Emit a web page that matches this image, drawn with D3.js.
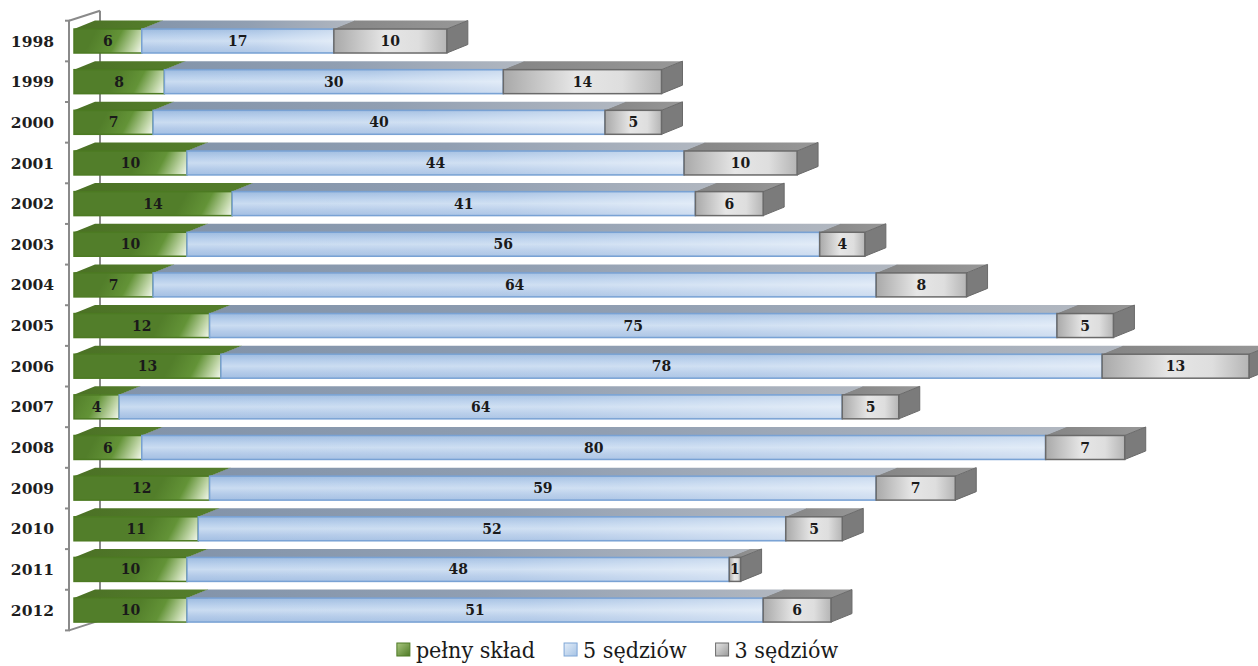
<!DOCTYPE html>
<html>
<head>
<meta charset="utf-8">
<script src="https://cdn.jsdelivr.net/npm/d3@7"></script>
<style>
  body { margin: 0; background: #fff; }
  svg { display: block; }
</style>
</head>
<body>
<div id="chart"></div>
<script>
// data
var years = ["1998", "1999", "2000", "2001", "2002", "2003", "2004", "2005",
             "2006", "2007", "2008", "2009", "2010", "2011", "2012"];
var pelnySklad = [6, 8, 7, 10, 14, 10, 7, 12, 13, 4, 6, 12, 11, 10, 10];
var piecSedziow = [17, 30, 40, 44, 41, 56, 64, 75, 78, 64, 80, 59, 52, 48, 51];
var trzechSedziow = [10, 14, 5, 10, 6, 4, 8, 5, 13, 5, 7, 7, 5, 1, 6];
var seriesNames = ["pełny skład", "5 sędziów", "3 sędziów"];

var width = 1258, height = 666;
var dx = 21, dy = -8.5; // 3d depth

var svg = d3.select("#chart").append("svg")
  .attr("width", width)
  .attr("height", height);

var defs = svg.append("defs");

// x scale: value -> pixel
var x = d3.scaleLinear()
  .domain([0, 104])
  .range([74, 1249]);

// rows
var y = d3.scaleBand()
  .domain(years)
  .range([20.7, 630.4])
  .paddingInner(0.41)
  .paddingOuter(0.205);

var h = y.bandwidth();

// gradients
function linGrad(id, x1, y1, x2, y2, stops) {
  var g = defs.append("linearGradient").attr("id", id)
    .attr("x1", x1).attr("y1", y1).attr("x2", x2).attr("y2", y2);
  stops.forEach(function(s) {
    g.append("stop").attr("offset", s[0]).attr("stop-color", s[1]);
  });
}
linGrad("blueFront", 0, 0, 0, 1, [[0, "#9dbbe0"], [0.3, "#b9d0ec"], [0.5, "#cadcf1"], [0.75, "#b4cbe9"], [1, "#a3bfe3"]]);
linGrad("blueTop", 0, 0, 1, 0, [[0, "#8394aa"], [0.5, "#919fb2"], [1, "#b1b7c0"]]);
linGrad("greyFront", 0, 0, 1, 0, [[0, "#a9a9a9"], [0.45, "#e6e6e6"], [0.75, "#dedede"], [1, "#b5b5b5"]]);
linGrad("greyTop", 0, 0, 1, 0, [[0, "#858585"], [1, "#979797"]]);
linGrad("greenTop", 0, 0, 1, 0, [[0, "#4b7125"], [1, "#557e2c"]]);
var shine = defs.append("linearGradient").attr("id", "blueShine")
  .attr("x1", 0).attr("y1", 0).attr("x2", 1).attr("y2", 0);
shine.append("stop").attr("offset", 0).attr("stop-color", "#fff").attr("stop-opacity", 0);
shine.append("stop").attr("offset", 0.6).attr("stop-color", "#fff").attr("stop-opacity", 0.12);
shine.append("stop").attr("offset", 1).attr("stop-color", "#fff").attr("stop-opacity", 0.45);

// axis walls (behind bars)
var axisColor = "#8a8a8a";
var axisG = svg.append("g");
var r = y.range();
axisG.append("line")
  .attr("x1", 100).attr("x2", 100)
  .attr("y1", r[0] - 10).attr("y2", r[1] - 10)
  .attr("stroke", axisColor).attr("stroke-width", 2);
axisG.append("path")
  .attr("d", "M69," + r[0] + "L100," + (r[0] - 10) + "M69," + r[1] + "L100," + (r[1] - 10))
  .attr("stroke", axisColor).attr("stroke-width", 2).attr("fill", "none");
axisG.append("line")
  .attr("x1", 69).attr("x2", 69)
  .attr("y1", r[0]).attr("y2", r[1])
  .attr("stroke", axisColor).attr("stroke-width", 2);
var tickY = d3.range(years.length + 1).map(function(i) { return r[0] + i * y.step(); });
axisG.selectAll(".tick")
  .data(tickY)
  .enter().append("line")
  .attr("x1", 65).attr("x2", 70)
  .attr("y1", function(d) { return d; })
  .attr("y2", function(d) { return d; })
  .attr("stroke", axisColor).attr("stroke-width", 2);

// year labels
svg.selectAll(".yearLabel")
  .data(years)
  .enter().append("text")
  .attr("x", 54)
  .attr("y", function(d) { return y(d) + h / 2; })
  .attr("dy", "0.36em")
  .attr("text-anchor", "end")
  .style("font-family", "'DejaVu Serif', serif")
  .style("font-weight", "bold")
  .style("font-size", "15.5px")
  .attr("fill", "#1e1e1e")
  .text(function(d) { return d; });

// bars
var rows = years.map(function(yr, i) {
  var vals = [pelnySklad[i], piecSedziow[i], trzechSedziow[i]];
  var cum = 0;
  var segs = vals.map(function(v, k) {
    var s = { year: yr, k: k, v: v, x0: x(cum), x1: x(cum + v) };
    cum += v;
    return s;
  });
  return { year: yr, segs: segs };
});

var faceStyle = [
  { top: "url(#greenTop)", stroke: "#4c7a22", side: "#466c22" },
  { top: "url(#blueTop)", front: "url(#blueFront)", stroke: "#79a2d4", side: "#8e9cae" },
  { top: "url(#greyTop)", front: "url(#greyFront)", stroke: "#6a6a6a", side: "#7b7b7b" }
];

rows.forEach(function(row) {
  var g = svg.append("g").attr("class", "row");
  var yt = y(row.year);
  row.segs.forEach(function(s) {
    var st = faceStyle[s.k];
    var front = st.front;
    if (s.k === 0) {
      // green front: dark with a diagonal highlight near the right end
      var gid = "green" + row.year;
      var gg = defs.append("linearGradient").attr("id", gid)
        .attr("gradientUnits", "userSpaceOnUse")
        .attr("x1", s.x1 - 45).attr("y1", yt)
        .attr("x2", s.x1).attr("y2", yt + h);
      gg.append("stop").attr("offset", 0).attr("stop-color", "#527e2a");
      gg.append("stop").attr("offset", 0.45).attr("stop-color", "#639337");
      gg.append("stop").attr("offset", 0.8).attr("stop-color", "#c2d7aa");
      gg.append("stop").attr("offset", 1).attr("stop-color", "#f6f9f1");
      front = "url(#" + gid + ")";
    }
    // top face
    g.append("path")
      .attr("d", "M" + s.x0 + "," + yt + "L" + (s.x0 + dx) + "," + (yt + dy) +
        "L" + (s.x1 + dx) + "," + (yt + dy) + "L" + s.x1 + "," + yt + "Z")
      .attr("fill", st.top);
    // side face
    g.append("path")
      .attr("d", "M" + s.x1 + "," + yt + "L" + (s.x1 + dx) + "," + (yt + dy) +
        "L" + (s.x1 + dx) + "," + (yt + dy + h) + "L" + s.x1 + "," + (yt + h) + "Z")
      .attr("fill", st.side)
      .attr("stroke", s.k === 2 ? "#6a6a6a" : "none")
      .attr("stroke-width", 1);
    // front face
    g.append("rect")
      .attr("x", s.x0).attr("y", yt)
      .attr("width", s.x1 - s.x0).attr("height", h)
      .attr("fill", front)
      .attr("stroke", st.stroke)
      .attr("stroke-width", 1.5);
    if (s.k === 1) {
      g.append("rect")
        .attr("x", s.x0 + 1).attr("y", yt + 1)
        .attr("width", s.x1 - s.x0 - 2).attr("height", h - 2)
        .attr("fill", "url(#blueShine)");
    }
  });
  g.selectAll(".val")
    .data(row.segs)
    .enter().append("text")
    .attr("x", function(d) { return (d.x0 + d.x1) / 2; })
    .attr("y", yt + h / 2)
    .attr("dy", "0.36em")
    .attr("text-anchor", "middle")
    .style("font-family", "'DejaVu Serif', serif")
    .style("font-weight", "bold")
    .style("font-size", "14px")
    .attr("fill", "#1a1a1a")
    .text(function(d) { return d.v; });
});

// legend
var legendColors = [
  ["#4e7a26", "#a9c77f"],
  ["#a6c3e5", "#e3edf8"],
  ["#9a9a9a", "#e6e6e6"]
];
var legendStroke = ["#4e7a26", "#7ea6d6", "#6a6a6a"];
legendColors.forEach(function(c, i) {
  linGrad("leg" + i, 0, 0, 1, 1, [[0, c[1]], [1, c[0]]]);
});
var legend = svg.append("g");
var items = seriesNames.map(function(name, i) {
  var t = legend.append("text")
    .attr("y", 658)
    .style("font-family", "'DejaVu Serif Condensed', 'DejaVu Serif', serif")
    .style("font-size", "23px")
    .attr("fill", "#1a1a1a")
    .text(name);
  return { t: t, w: t.node().getComputedTextLength() };
});
var gap = 28;
var total = d3.sum(items, function(d) { return 20 + d.w; }) + gap * (items.length - 1);
var lx = 618 - total / 2;
items.forEach(function(it, i) {
  legend.append("rect")
    .attr("x", lx).attr("y", 643)
    .attr("width", 13).attr("height", 13)
    .attr("fill", "url(#leg" + i + ")")
    .attr("stroke", legendStroke[i])
    .attr("stroke-width", 1);
  it.t.attr("x", lx + 19);
  lx = lx + 20 + it.w + gap;
});
</script>
</body>
</html>
